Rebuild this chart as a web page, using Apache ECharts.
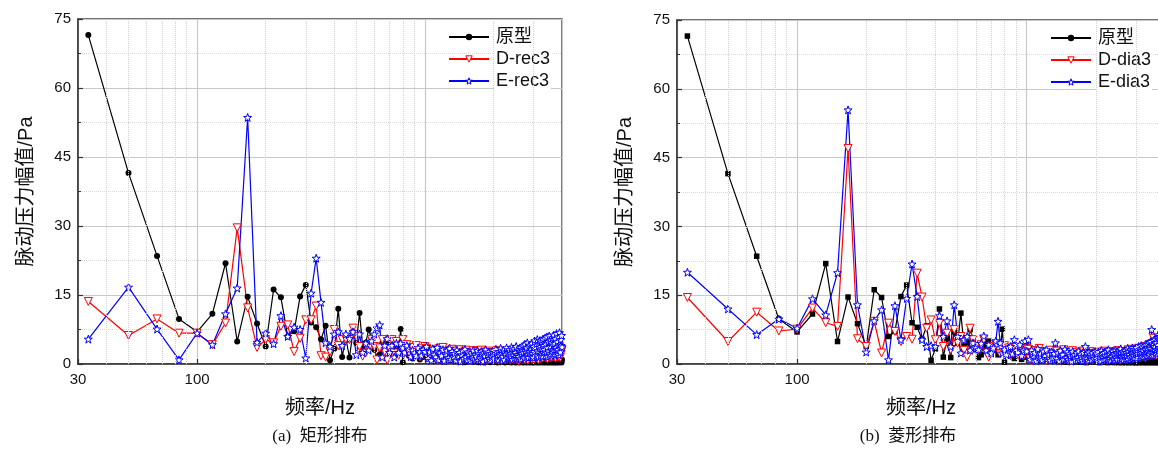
<!DOCTYPE html>
<html>
<head>
<meta charset="utf-8">
<script src="https://cdn.jsdelivr.net/npm/echarts@6/dist/echarts.min.js"></script>
<style>
html, body { margin: 0; padding: 0; background: #fff; }
#chart { width: 1158px; height: 450px; }
</style>
</head>
<body>
<div id="chart"></div>
<script>
// frequency grid (Hz), 16.67 Hz resolution
var freq = [
  33.3, 50, 66.7, 83.3, 100,
  116.7, 133.3, 150, 166.7, 183.3, 200, 216.7, 233.3, 250, 266.7, 283.3, 300,
  316.7, 333.3, 350, 366.7, 383.3, 400, 416.7, 433.3, 450, 466.7, 483.3, 500,
  516.7, 533.3, 550, 566.7, 583.3, 600, 616.7, 633.3, 650, 666.7, 683.3, 700,
  716.7, 733.3, 750, 766.7, 783.3, 800, 816.7, 833.3, 850, 866.7, 883.3, 900,
  916.7, 933.3, 950, 966.7, 983.3, 1000,
  1016.7, 1033.3, 1050, 1066.7, 1083.3, 1100, 1116.7, 1133.3, 1150, 1166.7, 1183.3, 1200,
  1216.7, 1233.3, 1250, 1266.7, 1283.3, 1300, 1316.7, 1333.3, 1350, 1366.7, 1383.3, 1400,
  1416.7, 1433.3, 1450, 1466.7, 1483.3, 1500, 1516.7, 1533.3, 1550, 1566.7, 1583.3, 1600,
  1616.7, 1633.3, 1650, 1666.7, 1683.3, 1700, 1716.7, 1733.3, 1750, 1766.7, 1783.3, 1800,
  1816.7, 1833.3, 1850, 1866.7, 1883.3, 1900, 1916.7, 1933.3, 1950, 1966.7, 1983.3, 2000,
  2016.7, 2033.3, 2050, 2066.7, 2083.3, 2100, 2116.7, 2133.3, 2150, 2166.7, 2183.3, 2200,
  2216.7, 2233.3, 2250, 2266.7, 2283.3, 2300, 2316.7, 2333.3, 2350, 2366.7, 2383.3, 2400,
  2416.7, 2433.3, 2450, 2466.7, 2483.3, 2500, 2516.7, 2533.3, 2550, 2566.7, 2583.3, 2600,
  2616.7, 2633.3, 2650, 2666.7, 2683.3, 2700, 2716.7, 2733.3, 2750, 2766.7, 2783.3, 2800,
  2816.7, 2833.3, 2850, 2866.7, 2883.3, 2900, 2916.7, 2933.3, 2950, 2966.7, 2983.3, 3000,
  3016.7, 3033.3, 3050, 3066.7, 3083.3, 3100, 3116.7, 3133.3, 3150, 3166.7, 3183.3, 3200,
  3216.7, 3233.3, 3250, 3266.7, 3283.3, 3300, 3316.7, 3333.3, 3350, 3366.7, 3383.3, 3400,
  3416.7, 3433.3, 3450, 3466.7, 3483.3, 3500, 3516.7, 3533.3, 3550, 3566.7, 3583.3, 3600,
  3616.7, 3633.3, 3650, 3666.7, 3683.3, 3700, 3716.7, 3733.3, 3750, 3766.7, 3783.3, 3800,
  3816.7, 3833.3, 3850, 3866.7, 3883.3, 3900, 3916.7, 3933.3, 3950, 3966.7, 3983.3, 4000
];

var yTicks = [0, 15, 30, 45, 60, 75];
var xTickLabels = [30, 100, 1000];
var xMinorGrid = [40, 50, 60, 70, 80, 90, 200, 300, 400, 500, 600, 700, 800, 900, 2000, 3000];

// 原型 (same prototype in both panels), up to 1000 Hz then above
var protoLow = [71.5, 41.5, 23.5, 9.8, 7.0, 10.9, 21.9, 4.9, 14.6, 8.8, 3.8, 16.2, 14.5, 6.0, 7.1, 14.7, 17.2, 9.0, 8.0, 5.4,
  8.3, 0.8, 3.3, 12.0, 1.5, 5.6, 1.4, 7.0, 4.5, 11.1, 3.8, 4.6, 7.5, 5.5, 3.1, 1.4, 2.0, 4.5, 3.5, 5.0,
  2.5, 4.0, 3.0, 2.0, 3.0, 7.6, 0.4, 2.5, 3.5, 1.8, 2.8, 1.2, 3.2, 3.8, 2.0, 1.0, 2.6, 1.5, 2.2];
var protoHigh = [2.8, 1.2, 3.3, 0.9, 2.1, 1.6, 2.9, 0.7, 1.8, 2.5, 1.0, 2.2, 0.6, 1.9, 2.7, 1.1, 1.5, 2.3, 0.8, 1.7,
  2.2, 0.6, 1.4, 1.9, 0.5, 1.6, 2.4, 0.9, 1.2, 0.4, 1.8, 1.1, 2.0, 0.6, 1.3, 0.9, 1.7, 0.5, 1.4, 1.0,
  0.7, 1.5, 0.4, 1.2, 1.8, 0.6, 1.0, 1.4, 0.3, 1.1, 0.8, 1.6, 0.5, 1.3, 0.9, 0.4, 1.2, 1.7, 0.6, 1.0,
  1.4, 0.5, 0.9, 1.6, 0.3, 1.1, 0.7, 1.3, 0.4, 1.0, 1.5, 0.6, 0.8, 1.2, 0.3, 0.9, 1.4, 0.5, 1.1, 0.7,
  0.4, 1.2, 0.8, 0.3, 1.3, 0.6, 1.0, 0.4, 1.5, 0.7, 0.3, 1.1, 0.9, 0.5, 1.2, 0.3, 0.8, 1.4, 0.6, 0.4,
  1.0, 0.3, 0.8, 1.3, 0.5, 0.9, 0.3, 1.1, 0.7, 0.4, 1.2, 0.6, 0.3, 0.9, 1.3, 0.5, 0.7, 0.3, 1.0, 0.6,
  0.3, 0.9, 1.2, 0.5, 0.7, 0.3, 1.1, 0.6, 0.4, 1.0, 0.8, 0.3, 1.3, 0.5, 0.7, 0.9, 0.3, 1.1, 0.6, 0.4,
  0.8, 0.3, 1.0, 0.6, 1.4, 0.4, 0.7, 0.3, 1.2, 0.5, 0.9, 0.3, 0.6, 1.1, 0.4, 0.8, 1.3, 0.3, 0.7, 0.5,
  1.0, 0.3, 0.6, 1.2, 0.4, 0.9, 0.3, 1.4, 0.5, 0.7, 1.1, 0.3, 0.8, 0.5, 1.3, 0.4, 0.6, 1.0, 0.3, 0.9];

// (a) 矩形排布
var recDLow = [13.6, 6.2, 9.8, 6.7, 6.7, 4.2, 8.9, 29.6, 12.2, 3.6, 5.3, 4.6, 8.2, 8.5, 2.7, 5.6, 9.6, 9.6, 12.6, 1.8,
  1.5, 2.7, 7.5, 4.0, 5.3, 5.4, 5.3, 7.8, 6.0, 3.8, 1.7, 2.4, 3.5, 5.3, 3.8, 0.9, 3.5, 5.3, 2.7, 0.9,
  3.5, 5.3, 2.4, 4.9, 1.9, 3.8, 5.3, 2.5, 4.2, 3.0, 1.8, 3.6, 2.2, 4.0, 2.8, 1.5, 3.3, 2.6, 3.8];
var recDHigh = [3.4, 1.3, 2.6, 0.9, 3.0, 1.8, 2.4, 0.7, 3.3, 1.6, 2.1, 3.6, 1.1, 2.7, 1.9, 0.8, 2.9, 1.5, 3.2, 2.0,
  1.2, 2.8, 0.8, 2.3, 3.1, 1.4, 2.0, 0.9, 2.6, 1.7, 3.0, 1.1, 2.2, 0.7, 2.5, 1.8, 1.3, 2.9, 1.0, 2.1,
  2.7, 0.9, 1.9, 2.4, 1.2, 3.0, 0.8, 1.6, 2.2, 1.0, 2.6, 1.4, 0.7, 2.3, 1.8, 2.8, 1.1, 1.5, 2.5, 0.9,
  1.7, 2.4, 1.0, 2.0, 2.9, 0.8, 1.6, 2.2, 1.3, 0.7, 2.6, 1.9, 1.1, 2.3, 0.9, 1.7, 2.7, 1.2, 2.0, 1.5,
  2.5, 0.8, 1.8, 2.2, 1.1, 2.8, 1.4, 0.9, 2.1, 1.6, 2.6, 1.0, 1.9, 2.3, 0.7, 1.5, 2.4, 1.2, 2.0, 1.7,
  1.0, 2.3, 1.6, 2.7, 0.9, 1.9, 2.5, 1.3, 2.1, 0.8, 1.7, 2.8, 1.2, 2.2, 1.5, 2.6, 1.0, 2.0, 2.4, 1.4,
  2.8, 1.1, 1.9, 2.5, 1.4, 3.0, 1.7, 2.2, 0.9, 2.6, 1.5, 2.9, 1.2, 2.3, 1.8, 3.1, 1.3, 2.0, 2.7, 1.6,
  2.2, 3.2, 1.4, 2.6, 1.9, 3.0, 1.1, 2.4, 2.8, 1.6, 3.3, 2.0, 1.3, 2.7, 2.1, 3.5, 1.5, 2.5, 1.8, 2.9,
  1.6, 2.8, 3.4, 2.0, 1.3, 3.0, 2.4, 1.7, 3.6, 2.2, 1.5, 2.9, 3.2, 1.9, 2.6, 1.4, 3.3, 2.1, 2.7, 3.1];
var recELow = [5.4, 16.7, 7.6, 0.9, 6.7, 4.2, 10.9, 16.5, 53.6, 4.7, 6.7, 4.4, 10.5, 6.0, 8.0, 7.5, 1.3, 15.4, 23.0, 13.4,
  4.6, 3.8, 6.5, 7.0, 4.0, 6.5, 5.5, 7.0, 2.0, 6.5, 2.5, 4.5, 3.0, 5.0, 6.5, 7.8, 8.5, 1.5, 4.0, 5.5,
  2.5, 4.0, 1.5, 4.5, 2.5, 4.5, 3.5, 2.5, 4.0, 3.2, 1.6, 3.0, 2.4, 1.8, 3.5, 2.6, 1.9, 3.1, 2.7];
var recEHigh = [3.8, 1.2, 2.6, 0.8, 3.3, 2.0, 1.5, 3.6, 0.9, 2.4, 1.8, 3.1, 0.7, 2.2, 2.9, 1.3, 3.4, 1.0, 2.7, 1.6,
  2.3, 0.8, 3.0, 1.7, 2.5, 0.6, 2.0, 2.8, 1.2, 3.2, 1.5, 0.9, 2.6, 1.9, 0.7, 2.4, 1.4, 3.0, 1.1, 2.1,
  1.6, 2.9, 0.8, 2.2, 1.3, 2.7, 1.9, 0.6, 2.4, 1.7, 3.1, 1.0, 2.0, 2.6, 1.2, 0.8, 2.3, 1.5, 2.8, 1.9,
  1.1, 2.5, 3.2, 1.4, 2.0, 0.9, 2.7, 1.8, 3.4, 1.2, 2.3, 1.6, 3.0, 0.9, 2.6, 2.1, 3.5, 1.3, 2.4, 1.7,
  3.1, 1.5, 2.2, 3.6, 1.0, 2.8, 1.9, 3.3, 1.4, 2.5, 3.8, 1.2, 2.0, 3.0, 1.6, 2.7, 3.5, 1.1, 2.3, 3.2,
  1.8, 3.9, 2.4, 1.3, 4.3, 2.9, 1.6, 3.5, 4.6, 2.1, 1.4, 3.7, 2.6, 4.1, 1.7, 3.2, 4.5, 2.2, 1.5, 3.8,
  2.7, 5.0, 1.6, 3.4, 4.4, 2.0, 5.3, 2.9, 1.5, 4.2, 3.6, 5.1, 1.9, 2.8, 4.8, 3.3, 1.7, 5.4, 2.5, 4.0,
  3.1, 5.6, 1.8, 4.3, 2.6, 5.9, 3.5, 1.6, 4.9, 2.9, 6.1, 2.2, 3.8, 5.2, 1.9, 4.6, 3.0, 5.7, 2.4, 4.1,
  6.3, 2.8, 4.5, 1.9, 5.5, 3.6, 6.6, 2.3, 4.8, 3.2, 5.9, 2.0, 4.2, 6.8, 3.4, 2.6, 5.3, 4.0, 6.2, 3.7];

// (b) 菱形排布
var diaDLow = [14.5, 4.9, 11.3, 7.2, 7.6, 12.2, 9.0, 8.2, 47.0, 5.5, 3.8, 9.3, 2.4, 8.9, 7.1, 4.9, 6.0, 5.4, 19.8, 14.6,
  7.8, 9.6, 5.3, 8.9, 3.8, 6.7, 3.1, 7.5, 4.6, 6.0, 3.0, 1.5, 7.8, 5.3, 4.0, 3.1, 4.2, 5.3, 2.5, 1.5,
  3.8, 3.1, 4.4, 3.7, 2.2, 3.1, 4.0, 2.6, 3.5, 1.8, 3.0, 2.4, 3.6, 2.0, 2.8, 3.3, 1.7, 2.9, 3.4];
var diaDHigh = [3.2, 1.1, 2.5, 0.8, 2.9, 1.6, 2.2, 3.4, 1.0, 2.7, 1.4, 2.0, 0.7, 2.6, 1.8, 3.0, 1.2, 2.3, 0.9, 2.1,
  2.8, 1.3, 1.9, 0.7, 2.4, 1.6, 3.1, 1.0, 2.2, 1.5, 0.8, 2.6, 1.2, 1.9, 2.9, 0.9, 2.0, 1.4, 2.5, 1.1,
  1.7, 2.6, 0.8, 2.1, 1.3, 2.8, 1.0, 1.8, 2.4, 0.7, 2.0, 1.5, 2.7, 1.1, 1.9, 0.8, 2.3, 1.4, 2.1, 1.0,
  2.4, 0.9, 1.8, 2.6, 1.2, 2.0, 0.7, 2.3, 1.5, 2.8, 1.0, 1.7, 2.2, 0.8, 2.5, 1.3, 1.9, 2.7, 1.1, 1.6,
  2.2, 1.0, 2.6, 1.4, 1.9, 0.8, 2.4, 1.6, 2.9, 1.1, 2.0, 1.5, 0.8, 2.3, 1.8, 2.7, 1.2, 2.1, 1.4, 2.5,
  1.3, 2.7, 1.9, 1.0, 2.4, 3.1, 1.5, 2.2, 1.1, 2.8, 1.7, 3.2, 1.2, 2.5, 1.9, 2.9, 1.4, 2.1, 3.0, 1.6,
  2.4, 3.3, 1.5, 2.8, 2.0, 3.4, 1.3, 2.6, 3.1, 1.8, 2.3, 3.6, 1.6, 2.9, 2.1, 3.8, 1.4, 2.7, 3.2, 2.0,
  3.5, 1.7, 2.9, 4.1, 2.2, 3.3, 1.8, 3.9, 2.5, 4.4, 1.9, 3.0, 2.6, 5.6, 2.1, 3.7, 4.6, 2.4, 3.2, 1.9,
  4.0, 2.6, 3.5, 4.8, 2.0, 3.9, 2.9, 5.1, 2.3, 3.6, 4.4, 2.7, 3.2, 4.7, 2.2, 3.8, 4.2, 2.8, 3.4, 4.5];
var diaELow = [20.0, 12.0, 6.4, 9.8, 7.8, 14.2, 10.7, 19.9, 55.4, 12.9, 2.6, 9.4, 11.8, 0.9, 12.7, 5.3, 14.3, 21.8, 14.7, 5.3,
  3.8, 4.0, 3.8, 10.5, 6.0, 9.4, 3.8, 12.9, 6.0, 2.4, 5.3, 6.0, 3.0, 4.6, 3.5, 3.1, 4.5, 6.1, 3.0, 4.2,
  2.4, 3.5, 5.0, 9.3, 4.6, 2.4, 3.2, 2.0, 3.5, 3.8, 2.2, 5.3, 3.0, 2.5, 4.2, 1.8, 3.0, 5.0, 2.8];
var diaEHigh = [5.3, 1.0, 3.0, 1.8, 2.5, 0.7, 3.3, 1.5, 2.2, 0.9, 2.8, 1.7, 3.1, 1.2, 2.0, 0.8, 2.6, 1.4, 2.3, 4.6,
  1.1, 2.4, 0.7, 2.9, 1.6, 2.1, 0.9, 3.2, 1.3, 2.6, 1.0, 2.2, 1.8, 0.6, 2.7, 1.5, 2.0, 0.8, 2.4, 1.4,
  2.8, 1.0, 2.1, 1.6, 0.7, 2.5, 1.3, 3.8, 1.1, 2.3, 0.8, 2.6, 1.5, 2.0, 0.9, 2.4, 1.7, 1.1, 2.7, 1.3,
  2.2, 0.8, 2.6, 1.4, 2.0, 0.7, 2.9, 1.6, 2.3, 1.0, 2.5, 1.8, 0.9, 2.7, 1.3, 3.1, 1.2, 2.1, 0.8, 2.4,
  1.6, 2.8, 1.1, 2.3, 0.9, 3.0, 1.5, 2.5, 1.0, 2.2, 2.9, 1.3, 2.6, 3.3, 1.2, 1.9, 2.7, 0.9, 2.4, 1.7,
  2.9, 1.2, 2.5, 1.7, 3.4, 1.0, 2.7, 2.1, 1.4, 3.1, 1.6, 2.8, 3.5, 1.3, 2.4, 1.8, 3.2, 1.1, 2.6, 3.6,
  1.5, 3.0, 2.2, 3.8, 1.4, 2.7, 3.3, 1.9, 4.0, 2.4, 1.6, 3.5, 2.9, 1.7, 3.9, 2.3, 3.1, 4.3, 1.8, 2.8,
  3.6, 1.9, 4.2, 2.6, 4.6, 2.0, 3.3, 4.9, 2.4, 7.5, 3.0, 4.4, 1.9, 5.1, 2.8, 3.8, 5.4, 2.5, 4.7, 3.2,
  5.6, 2.3, 4.1, 6.3, 2.9, 5.2, 3.6, 6.0, 2.6, 4.8, 6.5, 3.3, 5.5, 2.4, 6.1, 3.9, 6.8, 2.8, 5.7, 4.3];

var starPath = 'path://M0,-10L2.35,-3.24L9.51,-3.09L3.8,1.24L5.88,8.09L0,4L-5.88,8.09L-3.8,1.24L-9.51,-3.09L-2.35,-3.24Z';
var sans = 'Liberation Sans, Arial, Noto Sans CJK SC, sans-serif';
var serif = 'Liberation Serif, Times New Roman, Noto Sans CJK SC, serif';

function pairs(low, high) {
    var vals = low.concat(high);
    return freq.map(function (f, i) { return [f, vals[i]]; });
}

var dom = document.getElementById('chart');
var chart = echarts.init(dom, null, { renderer: 'canvas' });

var grids = [
    { left: 78, top: 19, width: 484, height: 345 },
    { left: 677, top: 20, width: 488, height: 344 }
];

function xAxisFor(i) {
    return {
        type: 'log', gridIndex: i, logBase: 10, min: 30, max: 4000,
        axisLine: { show: true, onZero: false, lineStyle: { color: '#333', width: 1.5 } },
        axisTick: { show: true, inside: true, length: 5, lineStyle: { color: '#333', width: 1.2 } },
        axisLabel: {
            fontSize: 15, color: '#111', margin: 8, fontFamily: sans,
            showMaxLabel: false,
            formatter: function (v) {
                var r = Math.round(v);
                return xTickLabels.indexOf(r) >= 0 ? String(r) : '';
            }
        },
        splitLine: { show: true, lineStyle: { color: '#c8c8c8', width: 1.2 } },
        name: '频率/Hz', nameLocation: 'middle', nameGap: 34,
        nameTextStyle: { fontSize: 20, color: '#111', fontFamily: sans }
    };
}

function yAxisFor(i) {
    return {
        type: 'value', gridIndex: i, min: yTicks[0], max: yTicks[yTicks.length - 1], interval: 15,
        axisLine: { show: true, lineStyle: { color: '#333', width: 1.5 } },
        axisTick: { show: true, inside: true, length: 5, lineStyle: { color: '#333', width: 1.2 } },
        minorTick: { show: true, splitNumber: 2, length: 3, lineStyle: { color: '#333' } },
        axisLabel: { fontSize: 15, color: '#111', margin: 7, fontFamily: sans },
        splitLine: { show: true, lineStyle: { color: '#c8c8c8', width: 1.2 } },
        minorSplitLine: { show: true, lineStyle: { color: '#d8d8d8', type: 'dotted' } },
        name: '脉动压力幅值/Pa', nameLocation: 'middle', nameGap: 42, nameRotate: 90,
        nameTextStyle: { fontSize: 20, color: '#111', fontFamily: sans }
    };
}

function minorGridSeries(i) {
    return {
        type: 'line', xAxisIndex: i, yAxisIndex: i, data: [], z: 1, silent: true,
        markLine: {
            silent: true, symbol: 'none', animation: false,
            label: { show: false },
            lineStyle: { color: '#d0d0d0', type: 'dotted', width: 1 },
            data: xMinorGrid.map(function (v) { return { xAxis: v }; })
        }
    };
}

function protoSeries(i, symbol, size) {
    return {
        name: '原型', type: 'line', xAxisIndex: i, yAxisIndex: i,
        data: pairs(protoLow, protoHigh),
        symbol: symbol, symbolSize: size,
        itemStyle: { color: '#000' },
        lineStyle: { color: '#000', width: 1.2 },
        animation: false
    };
}

function dSeries(i, name, low, high) {
    return {
        name: name, type: 'line', xAxisIndex: i, yAxisIndex: i,
        data: pairs(low, high),
        symbol: 'triangle', symbolRotate: 180, symbolSize: 8,
        itemStyle: { color: '#fff', borderColor: '#ff0000', borderWidth: 1 },
        lineStyle: { color: '#ff0000', width: 1.2 },
        animation: false
    };
}

function eSeries(i, name, low, high) {
    return {
        name: name, type: 'line', xAxisIndex: i, yAxisIndex: i,
        data: pairs(low, high),
        symbol: starPath, symbolSize: 8,
        itemStyle: { color: '#fff', borderColor: '#0000ff', borderWidth: 1 },
        lineStyle: { color: '#0000ff', width: 1.2 },
        animation: false
    };
}

function legendFor(left, top, names) {
    return {
        orient: 'vertical', left: left, top: top,
        data: [
            { name: names[0], itemStyle: { color: '#000' } },
            { name: names[1], itemStyle: { color: '#fff', borderColor: '#ff0000', borderWidth: 1 } },
            { name: names[2], itemStyle: { color: '#fff', borderColor: '#0000ff', borderWidth: 1 } }
        ],
        itemWidth: 40, itemHeight: 8, itemGap: 4, padding: 0,
        selectedMode: false,
        textStyle: { fontSize: 18, color: '#111', fontFamily: sans, backgroundColor: '#fff', padding: [0, 2] }
    };
}

var option = {
    backgroundColor: '#fff',
    animation: false,
    grid: grids.map(function (g) {
        return Object.assign({ show: true, borderColor: '#444', borderWidth: 1.5, containLabel: false, outerBoundsMode: 'none' }, g);
    }),
    xAxis: [xAxisFor(0), xAxisFor(1)],
    yAxis: [yAxisFor(0), yAxisFor(1)],
    legend: [
        legendFor(448, 28, ['原型', 'D-rec3', 'E-rec3']),
        legendFor(1050, 29, ['原型', 'D-dia3', 'E-dia3'])
    ],
    series: [
        minorGridSeries(0),
        protoSeries(0, 'circle', 6),
        dSeries(0, 'D-rec3', recDLow, recDHigh),
        eSeries(0, 'E-rec3', recELow, recEHigh),
        minorGridSeries(1),
        protoSeries(1, 'rect', 5.5),
        dSeries(1, 'D-dia3', diaDLow, diaDHigh),
        eSeries(1, 'E-dia3', diaELow, diaEHigh)
    ],
    graphic: [
        { type: 'text', x: 320, y: 437, style: { text: '(a)  矩形排布', align: 'center', verticalAlign: 'middle', fontSize: 17, fontFamily: serif, fill: '#111' } },
        { type: 'text', x: 908, y: 437, style: { text: '(b)  菱形排布', align: 'center', verticalAlign: 'middle', fontSize: 17, fontFamily: serif, fill: '#111' } }
    ]
};

chart.setOption(option);
</script>
</body>
</html>
